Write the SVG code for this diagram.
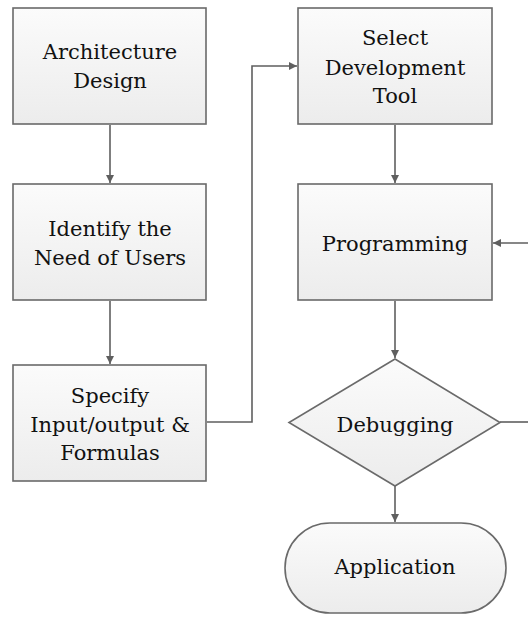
<svg xmlns="http://www.w3.org/2000/svg" width="528" height="617" viewBox="0 0 528 617">
<defs>
<linearGradient id="g" x1="0" y1="0" x2="0" y2="1">
<stop offset="0" stop-color="#fbfbfb"/>
<stop offset="1" stop-color="#ececec"/>
</linearGradient>
<marker id="arr" viewBox="0 0 10 10" refX="10" refY="5" markerWidth="8" markerHeight="8" markerUnits="userSpaceOnUse" orient="auto">
<path d="M0,0 L10,5 L0,10 z" fill="#5f5f5f"/>
</marker>
</defs>
<style>
.n{fill:url(#g);stroke:#6a6a6a;stroke-width:1.6}
.t{font-family:'DejaVu Serif',serif;font-size:21px;fill:#111;text-anchor:middle}
.c{fill:none;stroke:#5f5f5f;stroke-width:1.6}
</style>
<rect width="528" height="617" fill="#fff"/>
<g id="connectors">
<path class="c" d="M110,125 V183" marker-end="url(#arr)"/>
<path class="c" d="M110,301 V364" marker-end="url(#arr)"/>
<path class="c" d="M207,422 H252 V66 H297" marker-end="url(#arr)"/>
<path class="c" d="M395,125 V183" marker-end="url(#arr)"/>
<path class="c" d="M528,243 H493" marker-end="url(#arr)"/>
<path class="c" d="M395,301 V358" marker-end="url(#arr)"/>
<path class="c" d="M500,422 H528"/>
<path class="c" d="M395,486 V522" marker-end="url(#arr)"/>
</g>
<g id="architecture">
<rect class="n" x="13" y="8" width="193" height="116"/>
<text class="t" x="110" y="59">Architecture</text>
<text class="t" x="110" y="88">Design</text>
</g>
<g id="identify">
<rect class="n" x="13" y="184" width="193" height="116"/>
<text class="t" x="110" y="236">Identify the</text>
<text class="t" x="110" y="265">Need of Users</text>
</g>
<g id="specify">
<rect class="n" x="13" y="365" width="193" height="116"/>
<text class="t" x="110" y="403">Specify</text>
<text class="t" x="110" y="432">Input/output &amp;</text>
<text class="t" x="110" y="460">Formulas</text>
</g>
<g id="select">
<rect class="n" x="298" y="8" width="194" height="116"/>
<text class="t" x="395" y="45">Select</text>
<text class="t" x="395" y="75">Development</text>
<text class="t" x="395" y="103">Tool</text>
</g>
<g id="programming">
<rect class="n" x="298" y="184" width="194" height="116"/>
<text class="t" x="395" y="251">Programming</text>
</g>
<g id="debugging">
<polygon class="n" points="395,359 500,422.5 395,486 289,422.5"/>
<text class="t" x="395" y="432">Debugging</text>
</g>
<g id="application">
<rect class="n" x="285" y="523" width="221" height="90" rx="45" ry="45"/>
<text class="t" x="395" y="574">Application</text>
</g>
</svg>
